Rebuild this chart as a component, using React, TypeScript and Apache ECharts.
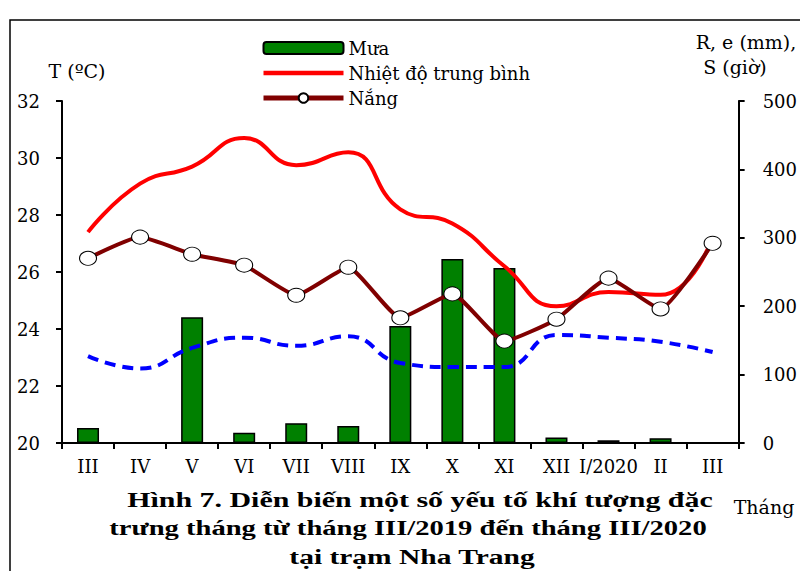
import React, { useEffect, useRef } from "react";
import * as echarts from "echarts";

const months = ["III", "IV", "V", "VI", "VII", "VIII", "IX", "X", "XI", "XII", "I/2020", "II", "III"];
const rain = [22, 0, 184, 15, 29, 25, 171, 269, 256, 8, 4, 7, 0];
const temperature = [27.4, 29.1, 29.7, 30.7, 29.75, 30.2, 28.2, 27.7, 26.2, 24.8, 25.3, 25.2, 27.2];
const sunshine = [270, 301, 276, 260, 216, 257, 183, 218, 149, 181, 241, 196, 292];
const evaporation = [127, 109, 139, 154, 142, 156, 117, 111, 111, 158, 154, 148, 133];
const leftTicks = { min: 20, max: 32, interval: 2 };
const rightTicks = { min: 0, max: 500, interval: 100 };

const FONT = "DejaVu Serif";
const CAPTION_FONT = "Liberation Serif";

export default function App() {
  const ref = useRef<HTMLDivElement>(null);
  useEffect(() => {
    if (!ref.current) return;
    const chart = echarts.init(ref.current, null, { renderer: "svg" });
    const axisCommon = {
      axisLine: { show: true, lineStyle: { color: "#000", width: 2 } },
      axisTick: { show: true, inside: false, length: 6, lineStyle: { color: "#000", width: 2 } },
      splitLine: { show: false },
    };
    const captionStyle = (text: string) => ({
      text,
      font: `bold 22px ${CAPTION_FONT}`,
      fill: "#000",
      align: "center",
      verticalAlign: "middle",
    });
    chart.setOption({
      animation: false,
      backgroundColor: "#fff",
      textStyle: { fontFamily: FONT },
      grid: { left: 62, right: 59, top: 101, bottom: 128, containLabel: false },
      legend: {
        orient: "vertical",
        left: 256,
        top: 33,
        itemWidth: 80,
        itemHeight: 12,
        itemGap: 5,
        data: [
          { name: "Mưa" },
          { name: "Nhiệt độ trung bình", icon: "path://M0,0H80V4.5H0Z" },
          { name: "Nắng", lineStyle: { width: 5, color: "#800000" } },
        ],
        textStyle: { fontFamily: FONT, fontSize: 18, color: "#000", lineHeight: 20 },
      },
      xAxis: {
        type: "category",
        data: months,
        ...axisCommon,
        axisTick: { show: true, length: 6, lineStyle: { color: "#000", width: 2 } },
        axisLabel: { interval: 0, margin: 14, fontFamily: FONT, fontSize: 18, color: "#000" },
      },
      yAxis: [
        {
          type: "value",
          ...leftTicks,
          position: "left",
          ...axisCommon,
          axisLabel: { margin: 22, fontFamily: FONT, fontSize: 18, color: "#000" },
        },
        {
          type: "value",
          ...rightTicks,
          position: "right",
          ...axisCommon,
          axisLabel: { margin: 24, fontFamily: FONT, fontSize: 18, color: "#000" },
        },
      ],
      series: [
        {
          name: "Mưa",
          type: "bar",
          yAxisIndex: 1,
          data: rain,
          barWidth: 22,
          itemStyle: { color: "#008000", borderColor: "#000", borderWidth: 1.5 },
        },
        {
          name: "Bốc hơi",
          type: "line",
          yAxisIndex: 1,
          data: evaporation,
          smooth: true,
          symbol: "none",
          lineStyle: { color: "#0000ff", width: 4, type: [11, 7] },
          itemStyle: { color: "#0000ff" },
        },
        {
          name: "Nhiệt độ trung bình",
          type: "line",
          yAxisIndex: 0,
          data: temperature,
          smooth: true,
          symbol: "none",
          lineStyle: { color: "#ff0000", width: 4 },
          itemStyle: { color: "#ff0000" },
        },
        {
          name: "Nắng",
          type: "line",
          yAxisIndex: 1,
          data: sunshine,
          smooth: 0.15,
          symbol: "circle",
          symbolSize: [17, 14],
          lineStyle: { color: "#800000", width: 4 },
          itemStyle: { color: "#ffffff", borderColor: "#000", borderWidth: 1 },
        },
      ],
      graphic: [
        {
          type: "rect",
          shape: { x: 10, y: 20, width: 820, height: 600 },
          style: { fill: "none", stroke: "#000", lineWidth: 1.5 },
          silent: true,
          z: -10,
        },
        {
          type: "text",
          x: 77,
          y: 71,
          style: { text: "T (ºC)", font: `19px ${FONT}`, fill: "#000", align: "center", verticalAlign: "middle" },
        },
        {
          type: "text",
          x: 746,
          y: 42,
          style: { text: "R, e (mm),", font: `19px ${FONT}`, fill: "#000", align: "center", verticalAlign: "middle" },
        },
        {
          type: "text",
          x: 735,
          y: 67,
          style: { text: "S (giờ)", font: `19px ${FONT}`, fill: "#000", align: "center", verticalAlign: "middle" },
        },
        {
          type: "text",
          x: 764,
          y: 507,
          style: { text: "Tháng", font: `19px ${FONT}`, fill: "#000", align: "center", verticalAlign: "middle" },
        },
        { type: "text", x: 420, y: 500, scaleX: 1.36, style: captionStyle("Hình 7. Diễn biến một số yếu tố khí tượng đặc") },
        { type: "text", x: 408, y: 528, scaleX: 1.3, style: captionStyle("trưng tháng từ tháng III/2019 đến tháng III/2020") },
        { type: "text", x: 412, y: 557, scaleX: 1.34, style: captionStyle("tại trạm Nha Trang") },
      ],
    });
    return () => chart.dispose();
  }, []);
  return <div ref={ref} style={{ position: "fixed", left: 0, top: 0, width: 800, height: 571 }} />;
}
